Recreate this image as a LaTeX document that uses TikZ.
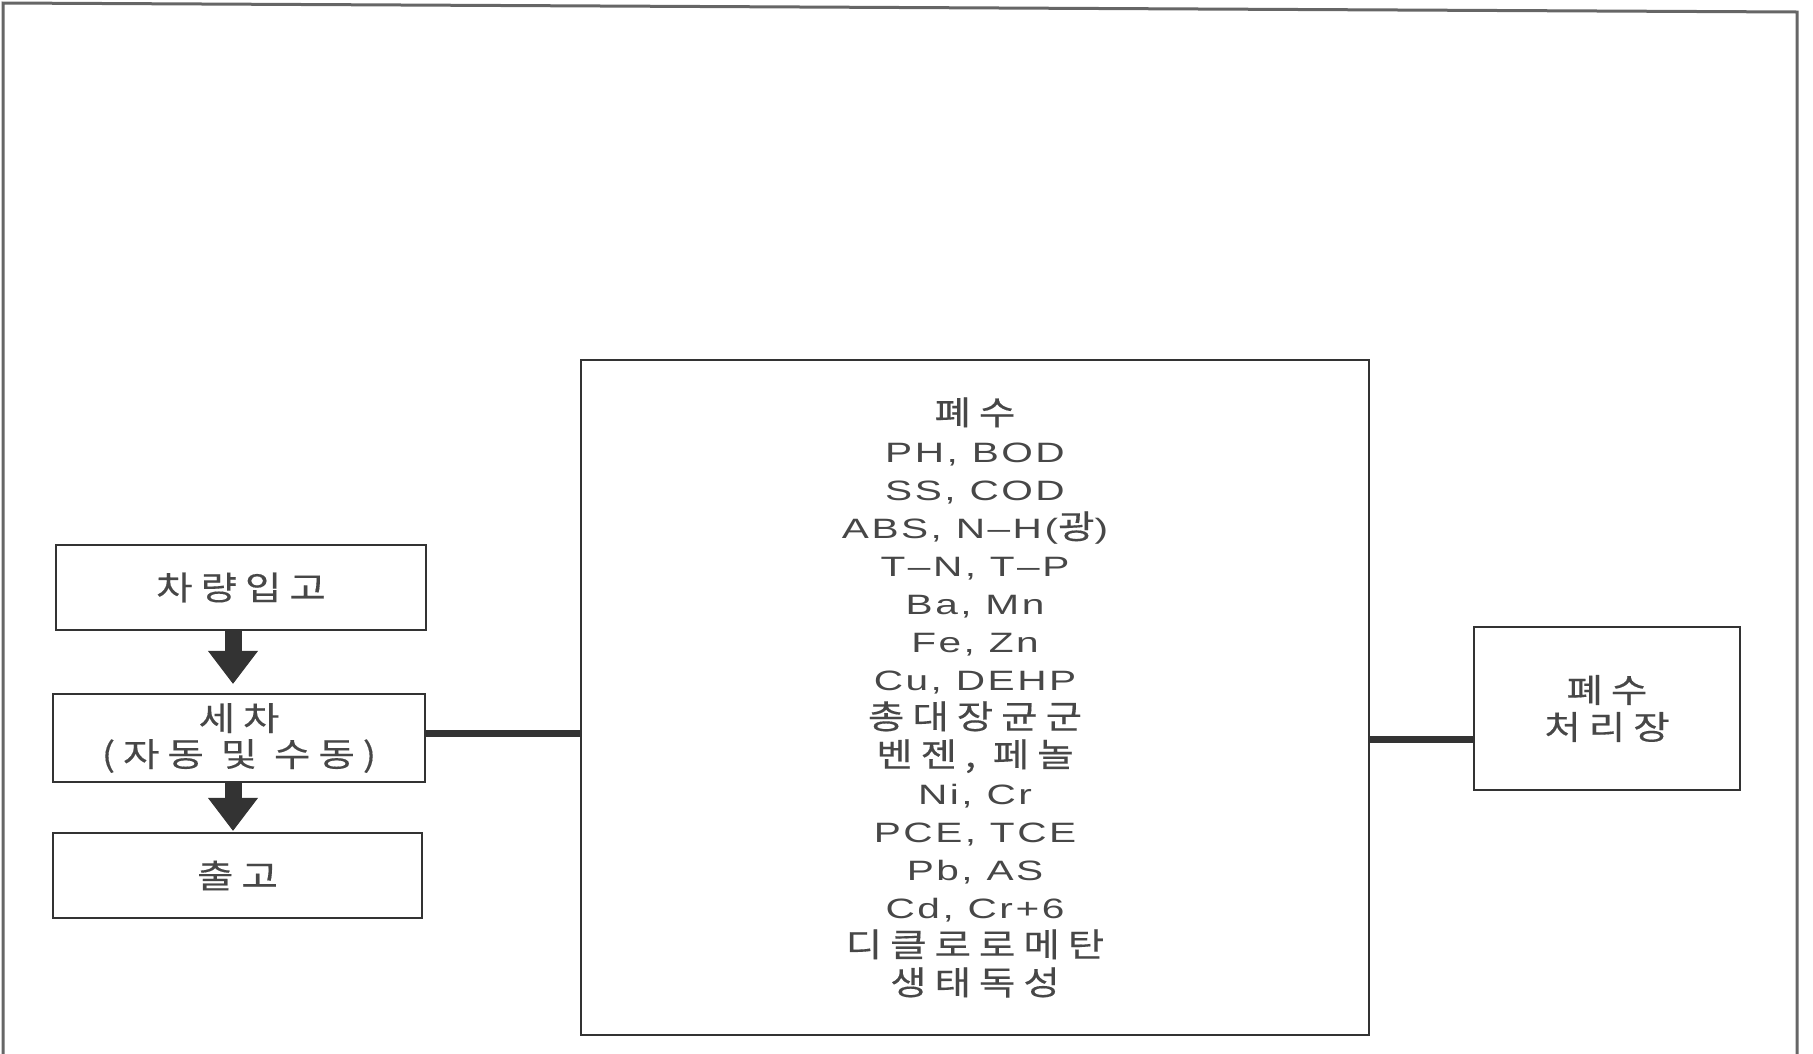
\documentclass[tikz,border=0pt]{standalone}
\usepackage{fontspec}
\setmainfont{Liberation Sans}[FakeStretch=1.45,LetterSpace=9]
\newfontfamily\korf{Noto Sans CJK KR}[Scale=1.18,FakeStretch=1.2,LetterSpace=24,FakeBold=0.35]
\newcommand\K[1]{{\korf #1}}
\usetikzlibrary{arrows.meta,calc}
\definecolor{txt}{gray}{0.28}
\definecolor{ln}{gray}{0.2}
\begin{document}
\begin{tikzpicture}[x=1pt,y=-1pt,
  box/.style={draw=ln, line width=2.4pt, inner sep=0pt, text=txt, align=center,
    font=\fontsize{28}{36}\selectfont},
  conn/.style={draw=ln, line width=7pt},
  arr/.style={draw=ln, line width=17pt, -{Triangle[width=50pt,length=33pt,line width=1pt]}}]
\useasboundingbox (0,0) rectangle (1813,1053);
\draw[draw=black!60, line width=3pt] (3,1060) -- (3,3) -- (1797,12) -- (1797,1060);

\node[box, minimum width=370pt, minimum height=85pt] (b1) at (241,587.5) {\K{차량입고}};
\node[box, minimum width=372pt, minimum height=88pt] (b2) at (239,738) {\K{세차}\\\K{(자동 및 수동)}};
\node[box, minimum width=369pt, minimum height=85pt] (b3) at (237.5,875.5) {\K{출고}};
\node[box, minimum width=788pt, minimum height=675pt, font=\fontsize{28}{38}\selectfont] (mid) at (975,697.5)
 {\K{폐수}\\PH, BOD\\SS, COD\\ABS, N–H(\K{광})\\T–N, T–P\\Ba, Mn\\Fe, Zn\\Cu, DEHP\\\K{총대장균군}\\\K{벤젠, 페놀}\\Ni, Cr\\PCE, TCE\\Pb, AS\\Cd, Cr+6\\\K{디클로로메탄}\\\K{생태독성}};
\node[box, minimum width=266pt, minimum height=163pt, font=\fontsize{28}{37}\selectfont] (rt) at (1607,708.5) {\K{폐수}\\\K{처리장}};

\draw[arr, shorten >=9pt] ([xshift=-8pt]b1.south) -- ([xshift=-8pt]b1.south |- b2.north);
\draw[arr, shorten >=1pt] ([xshift=-6pt]b2.south) -- ([xshift=-6pt]b2.south |- b3.north);
\draw[conn] ([yshift=5pt]b2.east) -- ([yshift=5pt]b2.east -| mid.west);
\coordinate (rc) at ([yshift=-30.5pt]rt.west);
\draw[conn] (rc -| mid.east) -- (rc);
\end{tikzpicture}
\end{document}
